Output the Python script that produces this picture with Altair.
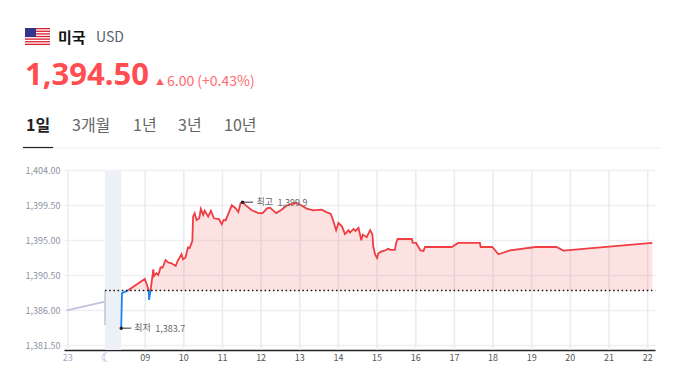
import altair as alt
import pandas as pd

# --- data (x = hour position, 7 = "23" tick, 8 = moon tick)
red_h = [8.56,8.99,9.04,9.09,9.14,9.21,9.23,9.29,9.34,9.40,9.45,9.53,9.59,9.68,9.79,9.84,9.94,9.98,10.04,10.11,10.15,
         10.22,10.24,10.28,10.33,10.40,10.44,10.50,10.54,10.63,10.70,10.78,10.91,10.98,11.03,11.08,11.16,11.24,11.33,
         11.41,11.47,11.52,11.61,11.76,11.93,12.04,12.15,12.23,12.39,12.53,12.66,12.88,13.0,13.18,13.35,13.48,13.57,
         13.7,13.8,13.87,13.94,14.0,14.09,14.17,14.26,14.30,14.39,14.44,14.52,14.59,14.63,14.73,14.82,14.88,14.90,14.95,
         15.0,15.03,15.1,15.21,15.28,15.35,15.46,15.49,15.53,15.9,15.92,16.01,16.12,16.2,16.24,16.93,17.1,17.66,17.68,
         17.98,18.14,18.44,19.1,19.64,19.82,22.12]
red_v = [1388.57,1390.03,1389.38,1388.57,1388.57,1391.27,1390.41,1390.76,1390.54,1391.53,1391.5,1392.47,1392.17,1392.04,
         1391.7,1392.34,1393.2,1392.55,1392.77,1394.1,1394.0,1394.91,1398.04,1398.47,1397.61,1397.83,1399.03,1398.26,
         1398.81,1398.04,1398.81,1397.83,1397.74,1397.06,1397.61,1397.55,1398.5,1399.5,1399.16,1398.64,1399.8,1399.9,
         1399.46,1398.86,1398.5,1398.5,1399.11,1399.2,1398.5,1398.94,1399.46,1399.8,1399.6,1399.07,1398.86,1398.9,1398.93,
         1398.6,1398.43,1397.44,1396.29,1397.23,1396.8,1395.81,1396.29,1396.0,1396.46,1396.2,1396.6,1395.0,1395.73,1395.4,
         1396.3,1395.73,1394.23,1393.16,1392.73,1393.3,1393.54,1393.7,1393.9,1393.76,1393.76,1394.6,1395.17,1395.17,1394.7,
         1394.66,1393.7,1393.63,1394.14,1394.14,1394.66,1394.66,1394.14,1394.14,1393.2,1393.71,1394.14,1394.14,1393.67,1394.66]
blue1_h = [8.38,8.40,8.56]
blue1_v = [1383.7,1388.2,1388.57]
blue2_h = [9.09,9.10,9.14]
blue2_v = [1388.57,1387.33,1388.57]
pre_h = [6.97,7.96]
pre_v = [1386.0,1387.1]
pre_drop_h = [7.96,7.96]
pre_drop_v = [1388.55,1384.1]
night_start, night_end = 7.96, 8.38
prev_close = 1388.55
y_ticks = [1404.0,1399.5,1395.0,1390.5,1386.0,1381.5]
x_ticks = list(range(9,23))
x_labels = ["09","10","11","12","13","14","15","16","17","18","19","20","21","22"]
pre_ticks = [7]
pre_labels = ["23"]
moon_ticks = [8]
moon_labels = ["☾"]
x_grid = [7,9,10,11,12,13,14,15,16,17,18,19,20,21,22]
low_h, low_v, low_label = 8.38, 1383.7, "1,383.7"
high_h, high_v, high_label = 11.52, 1399.9, "1,399.9"
tabs = ["1일","3개월","1년","3년","10년"]
tab_x = [26,72,133,178,224]

FONT = "Noto Sans CJK KR"
xs = alt.Scale(domain=[6.9,22.19], range=[0,591], nice=False, zero=False)
ys = alt.Scale(domain=[1381.5,1404], range=[337.3,162.3], nice=False, zero=False)
X = lambda f="h": alt.X(f"{f}:Q", scale=xs, title=None)
Y = lambda f="v": alt.Y(f"{f}:Q", scale=ys, title=None)
def P(px): return px-64      # page pixel to plot pixel, header only
def Q(py): return py-8

layers = []
# axes + grid
axis_base = alt.Chart(pd.DataFrame({"h":[7.0],"v":[1404.0]})).mark_point(opacity=0).encode(
    x=alt.X("h:Q", scale=xs, title=None, axis=alt.Axis(
        values=x_grid, grid=False, ticks=False, labels=False, domainColor="#222", domainWidth=1.5)),
    y=alt.Y("v:Q", scale=ys, title=None, axis=alt.Axis(
        values=y_ticks, format=",.2f", grid=True, gridColor="#f0f0f4", gridWidth=1.5, domain=False, ticks=False,
        labelPadding=4, labelFont=FONT, labelFontSize=9, labelColor="#8d93a3", labelOverlap=False)))
layers.append(axis_base)
# night band
layers.append(alt.Chart(pd.DataFrame({"a":[night_start],"b":[night_end]})).mark_rect(color="#eef0f7").encode(
    x=X("a"), x2="b:Q", y=alt.value(Q(170)), y2=alt.value(342)))
# vertical grid
layers.append(alt.Chart(pd.DataFrame({"h":x_grid})).mark_rule(color="#eaebf0", strokeWidth=1.5).encode(
    x=X(), y=alt.value(Q(170)), y2=alt.value(342)))
# area
df_red = pd.DataFrame({"h":red_h,"v":red_v,"b":prev_close})
layers.append(alt.Chart(df_red).mark_area(color="#f44a4a", opacity=0.16, interpolate="linear").encode(
    x=X(), y=Y(), y2="b:Q"))
# lines
def line(hs, vs, color, width=1.8):
    return alt.Chart(pd.DataFrame({"h":hs,"v":vs})).mark_line(color=color, strokeWidth=width, clip=False).encode(
        x=X(), y=Y(), order="i:Q").transform_window(i="row_number()")
layers.append(line(pre_h, pre_v, "#c1c5dc"))
layers.append(line(pre_drop_h, pre_drop_v, "#c1c5dc", 1.5))
layers.append(line(red_h, red_v, "#ef3d42"))
layers.append(line(blue1_h, blue1_v, "#1a84f2"))
layers.append(line(blue2_h, blue2_v, "#1a84f2"))
# previous close
layers.append(alt.Chart(pd.DataFrame({"a":[night_start],"b":[22.2],"v":[prev_close]})).mark_rule(
    color="#111", strokeWidth=1.5, strokeDash=[1.5,2.7]).encode(x=X("a"), x2="b:Q", y=Y()))
# hi / lo annotations
anno = pd.DataFrame({"h":[low_h,high_h],"e":[low_h+0.26,high_h+0.27],"v":[low_v,high_v],
                     "t":["최저","최고"],"n":[low_label,high_label],"dx1":[13,14]})
base = alt.Chart(anno)
layers.append(base.mark_rule(color="#555", strokeWidth=1.2).encode(x=X(), x2="e:Q", y=Y()))
layers.append(base.mark_point(filled=True, color="#222", size=12, opacity=1).encode(x=X(), y=Y()))
for i in range(2):
    one = alt.Chart(anno.iloc[[i]])
    d = anno["dx1"][i]
    layers.append(one.mark_text(align="left", baseline="middle", font=FONT, fontSize=9, color="#666", dx=int(d)).encode(
        x=X(), y=Y(), text="t:N"))
    layers.append(one.mark_text(align="left", baseline="middle", font=FONT, fontSize=9, color="#666", dx=int(d)+21, dy=1).encode(
        x=X(), y=Y(), text="n:N"))
# x tick labels
layers.append(alt.Chart(pd.DataFrame({"h":x_ticks,"t":x_labels})).mark_text(
    align="center", baseline="middle", font=FONT, fontSize=9, color="#555555", clip=False).encode(
    x=X(), y=alt.value(Q(358)), text="t:N"))
layers.append(alt.Chart(pd.DataFrame({"h":pre_ticks,"t":pre_labels})).mark_text(
    align="center", baseline="middle", font=FONT, fontSize=9, color="#a4a9c4", clip=False).encode(
    x=X(), y=alt.value(Q(358)), text="t:N"))
layers.append(alt.Chart(pd.DataFrame({"h":moon_ticks,"t":moon_labels})).mark_text(
    align="center", baseline="middle", font="DejaVu Sans", fontSize=13, fontWeight="bold", color="#a4a9c4", clip=False).encode(
    x=X(), y=alt.value(Q(358)), text="t:N"))

# header
def txt(s, px, py, size, color, weight="normal", font=FONT):
    return alt.Chart(pd.DataFrame({"t":[s]})).mark_text(align="left", baseline="middle", font=font, fontSize=size,
        color=color, fontWeight=weight, clip=False).encode(x=alt.value(P(px)), y=alt.value(Q(py)), text="t:N")
def hline(x1, x2, py, color, w=1):
    return alt.Chart(pd.DataFrame({"a":[0]})).mark_rule(color=color, strokeWidth=w).encode(
        x=alt.value(P(x1)), x2=alt.value(P(x2)), y=alt.value(Q(py)))
layers.append(hline(27,660,6.5,"#eeeeee"))
layers.append(hline(23,660,148,"#eeeeee"))
layers.append(hline(23,53,147.5,"#222222",1.2))
# flag stripes
layers.append(alt.Chart(pd.DataFrame({"a":[0]})).mark_rect(color="#ffffff").encode(
    x=alt.value(P(25)), x2=alt.value(P(50)), y=alt.value(Q(28)), y2=alt.value(Q(45))))
for s in range(7):
    top = 28 + s*17/6.5
    layers.append(alt.Chart(pd.DataFrame({"a":[0]})).mark_rect(color="#d8202f").encode(
        x=alt.value(P(25)), x2=alt.value(P(50)), y=alt.value(Q(top)), y2=alt.value(Q(top+17/13))))
layers.append(alt.Chart(pd.DataFrame({"a":[0]})).mark_rect(color="#33348a").encode(
    x=alt.value(P(25)), x2=alt.value(P(36)), y=alt.value(Q(28)), y2=alt.value(Q(37))))
layers.append(txt("미국",58,38,15,"#111111","bold"))
layers.append(txt("USD",96,38,14,"#5a6070"))
layers.append(txt("1,394.50",25,76,31,"#ff4d52","bold","Noto Sans"))
layers.append(txt("▲",156,83,8,"#ff5a5f"))
layers.append(txt("6.00 (+0.43%)",167,82,14,"#ff6a6e"))
for i,(t,x) in enumerate(zip(tabs,tab_x)):
    layers.append(txt(t,x,126,16,"#222222" if i==0 else "#666666","bold" if i==0 else "normal"))

chart = alt.layer(*layers).properties(
    width=591, height=342,
    autosize=alt.AutoSizeParams(type="none"),
    padding={"left":56,"right":28,"top":0,"bottom":19},
).configure_view(stroke=None)
chart.save("out.html", embed_options={"renderer":"svg","actions":False})
